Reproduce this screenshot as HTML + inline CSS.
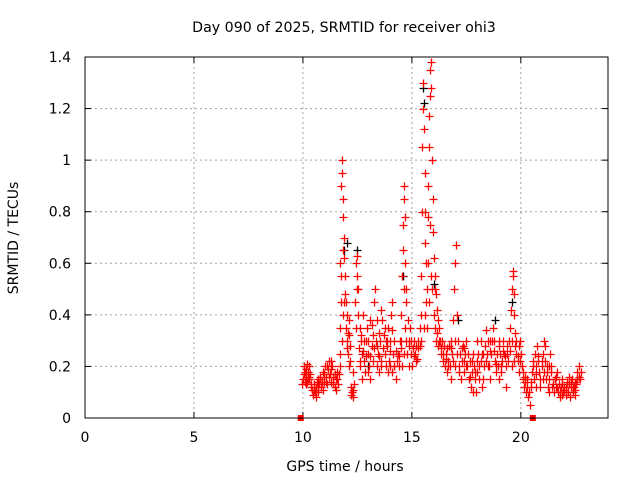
<!DOCTYPE html>
<html><head><meta charset="utf-8"><style>
html,body{margin:0;padding:0;background:#fff;}
svg{display:block;font-family:"DejaVu Sans","Liberation Sans",sans-serif;}
</style></head><body>
<svg id="chart" width="640" height="480">
<text x="344" y="32" text-anchor="middle" font-size="14.2">Day 090 of 2025, SRMTID for receiver ohi3</text>
<text transform="translate(18,238) rotate(-90)" text-anchor="middle" font-size="14">SRMTID / TECUs</text>
<text x="345" y="471" text-anchor="middle" font-size="14">GPS time / hours</text>
<g id="grid"></g>
<g id="axes"></g>
<g id="marks"></g>
<rect x="85" y="57" width="523" height="361" fill="none" stroke="#000" stroke-width="1"/>
</svg>
<script>
const xTicks=[0,5,10,15,20];
const yTicks=[0,0.2,0.4,0.6,0.8,1,1.2,1.4];
const yTickLabels=["0","0.2","0.4","0.6","0.8","1","1.2","1.4"];
const redT=[9.95,10.0,10.05,10.1,10.12,10.15,10.2,10.22,10.25,10.3,10.33,10.35,10.4,10.45,10.5,10.55,10.6,10.62,10.65,10.7,10.75,10.8,10.85,10.9,10.95,11.0,11.05,11.1,11.15,11.2,11.25,11.3,11.35,11.4,11.45,11.5,11.55,11.6,11.65,
10.05,10.15,10.3,10.5,10.7,10.9,11.1,11.3,11.5,
11.7,11.72,11.75,11.78,11.8,11.82,11.85,11.88,11.9,11.92,11.95,11.98,12.0,12.02,12.05,12.08,12.1,12.12,12.15,11.75,11.85,11.7,11.8,12.2,12.25,12.28,12.3,12.22,12.35,12.3,
12.4,12.45,12.5,12.48,12.52,12.55,12.6,12.65,12.7,12.75,12.8,12.85,12.9,12.95,13.0,13.05,13.1,13.15,13.2,13.25,13.3,13.35,13.4,13.45,13.5,13.55,13.6,13.65,13.7,13.75,13.8,13.85,13.9,13.95,14.0,14.05,14.1,14.15,14.2,14.25,14.3,
12.6,12.8,13.0,13.2,13.4,13.6,13.8,14.0,14.2,12.7,13.1,13.5,13.9,14.1,
14.35,14.4,14.45,14.5,14.55,14.58,14.6,14.62,14.65,14.68,14.7,14.72,14.75,14.8,14.85,14.9,14.95,15.0,14.55,14.65,14.75,14.85,15.05,15.1,15.15,15.2,15.25,15.3,15.35,
15.4,15.42,15.45,15.48,15.5,15.52,15.55,15.58,15.6,15.62,15.65,15.7,15.72,15.75,15.78,15.8,15.82,15.85,15.88,15.9,15.92,15.95,15.98,16.0,16.05,16.1,16.15,16.2,16.25,16.3,15.6,15.7,15.8,15.9,16.0,16.1,16.2,16.35,16.4,16.45,
16.5,16.55,16.6,16.65,16.7,16.75,16.8,16.85,16.9,16.95,17.0,17.02,17.05,17.1,17.15,17.2,17.25,17.3,17.35,17.4,17.45,17.5,17.55,17.6,17.65,17.7,17.75,17.8,17.85,17.9,17.95,18.0,18.05,18.1,18.15,18.2,18.25,18.3,18.35,18.4,18.45,18.5,18.55,18.6,18.65,18.7,18.75,18.8,18.85,18.9,18.95,19.0,19.05,19.1,19.15,19.2,19.25,19.3,19.35,19.4,19.45,
16.6,17.0,17.4,17.8,18.2,18.6,19.0,19.3,18.0,16.8,
19.5,19.55,19.6,19.62,19.65,19.68,19.7,19.72,19.75,19.8,19.85,19.9,19.95,20.0,20.05,20.1,19.6,19.7,19.9,
20.15,20.2,20.25,20.3,20.35,20.4,20.45,20.5,20.55,20.6,20.65,20.7,20.75,20.8,20.85,20.9,20.95,21.0,21.05,21.1,21.15,21.2,21.25,21.3,21.35,21.4,21.45,21.5,21.55,21.6,21.65,21.7,21.75,21.8,21.85,21.9,21.95,22.0,22.05,22.1,22.15,22.2,22.25,22.3,22.35,22.4,22.45,22.5,22.55,22.6,22.65,22.7,22.75,
20.7,21.0,21.3,21.6,21.9,22.2,22.5,21.1];
const redV=[0.13,0.15,0.17,0.14,0.19,0.16,0.21,0.18,0.15,0.2,0.17,0.12,0.11,0.09,0.13,0.1,0.08,0.12,0.14,0.1,0.13,0.16,0.12,0.18,0.14,0.2,0.16,0.13,0.19,0.22,0.17,0.14,0.2,0.16,0.12,0.15,0.18,0.13,0.17,
0.2,0.13,0.15,0.11,0.15,0.11,0.2,0.22,0.11,
0.35,0.6,0.9,1.0,0.95,0.85,0.78,0.7,0.62,0.55,0.48,0.45,0.4,0.3,0.33,0.25,0.38,0.2,0.28,0.45,0.4,0.25,0.3,0.12,0.1,0.08,0.11,0.09,0.13,0.18,
0.45,0.6,0.63,0.55,0.5,0.4,0.35,0.3,0.25,0.4,0.22,0.18,0.3,0.35,0.25,0.2,0.38,0.28,0.32,0.45,0.5,0.3,0.2,0.25,0.18,0.3,0.42,0.38,0.32,0.25,0.2,0.28,0.35,0.22,0.3,0.4,0.45,0.25,0.2,0.15,0.22,
0.22,0.3,0.18,0.22,0.28,0.2,0.3,0.2,0.3,0.15,0.15,0.24,0.18,0.18,
0.25,0.2,0.3,0.4,0.55,0.65,0.75,0.85,0.9,0.78,0.6,0.5,0.45,0.38,0.3,0.35,0.25,0.2,0.2,0.25,0.3,0.2,0.27,0.3,0.25,0.28,0.23,0.3,0.35,
0.4,0.55,0.8,1.05,1.2,1.3,1.12,0.95,0.8,0.68,0.6,0.5,0.78,0.9,1.05,1.17,1.25,1.35,1.38,1.28,1.0,0.85,0.72,0.62,0.55,0.48,0.42,0.38,0.35,0.3,0.4,0.35,0.45,0.55,0.4,0.3,0.28,0.25,0.3,0.22,
0.2,0.25,0.18,0.22,0.28,0.2,0.3,0.25,0.38,0.5,0.6,0.67,0.4,0.3,0.2,0.25,0.15,0.22,0.28,0.18,0.25,0.3,0.2,0.15,0.22,0.12,0.18,0.25,0.2,0.15,0.1,0.18,0.25,0.2,0.3,0.25,0.15,0.2,0.28,0.34,0.25,0.3,0.2,0.15,0.25,0.35,0.3,0.22,0.18,0.25,0.2,0.3,0.25,0.2,0.22,0.3,0.25,0.2,0.28,0.22,0.3,
0.27,0.2,0.27,0.1,0.12,0.3,0.15,0.12,0.3,0.15,
0.35,0.42,0.5,0.55,0.57,0.48,0.4,0.33,0.28,0.3,0.22,0.28,0.3,0.25,0.2,0.15,0.2,0.22,0.18,
0.12,0.14,0.1,0.15,0.08,0.05,0.12,0.18,0.22,0.15,0.25,0.2,0.28,0.22,0.18,0.12,0.2,0.25,0.3,0.22,0.15,0.18,0.12,0.2,0.25,0.18,0.12,0.1,0.15,0.12,0.18,0.1,0.13,0.08,0.12,0.15,0.1,0.12,0.09,0.14,0.1,0.13,0.08,0.12,0.15,0.1,0.12,0.09,0.13,0.18,0.2,0.15,0.18,
0.12,0.15,0.1,0.16,0.09,0.16,0.14,0.28];
const extraT=[10.08,10.18,10.28,10.38,10.58,10.68,10.78,10.88,10.98,11.08,11.18,11.28,11.38,11.48,11.58,11.68,
11.77,11.83,11.9,11.96,12.04,12.1,12.18,12.26,12.42,12.46,12.58,12.62,12.68,12.78,12.88,12.98,13.08,13.18,13.28,13.38,13.48,13.58,13.68,13.78,13.88,13.98,14.08,14.18,14.28,
14.42,14.48,14.52,14.62,14.7,14.78,14.88,14.98,15.08,15.18,15.28,15.38,15.44,15.54,15.64,15.74,15.84,15.94,16.04,16.08,16.14,16.24,16.32,16.42,16.48,
16.58,16.68,16.78,16.88,16.98,17.08,17.18,17.28,17.38,17.48,17.58,17.68,17.78,17.88,17.98,18.08,18.18,18.28,18.38,18.48,18.58,18.68,18.78,18.88,18.98,19.08,19.18,19.28,19.38,19.48,19.58,19.78,19.88,19.98,20.08,
20.18,20.28,20.38,20.48,20.58,20.68,20.78,20.88,20.98,21.08,21.18,21.28,21.38,21.48,21.58,21.68,21.78,21.88,21.98,22.08,22.18,22.28,22.38,22.48,22.58,22.68];
const extraV=[0.18,0.14,0.16,0.13,0.1,0.12,0.15,0.14,0.17,0.14,0.16,0.19,0.13,0.17,0.15,0.2,
0.55,0.65,0.45,0.35,0.27,0.32,0.22,0.1,0.35,0.5,0.27,0.2,0.32,0.26,0.24,0.3,0.24,0.36,0.27,0.38,0.33,0.22,0.27,0.35,0.3,0.26,0.34,0.2,0.26,
0.24,0.27,0.3,0.5,0.35,0.25,0.28,0.3,0.24,0.22,0.27,0.28,0.3,0.35,0.45,0.6,0.75,0.5,0.5,0.35,0.33,0.3,0.27,0.25,0.28,
0.23,0.2,0.27,0.22,0.3,0.25,0.18,0.27,0.22,0.2,0.25,0.16,0.22,0.18,0.22,0.15,0.22,0.25,0.22,0.2,0.26,0.3,0.26,0.21,0.28,0.18,0.26,0.24,0.25,0.26,0.3,0.25,0.24,0.22,0.18,
0.16,0.12,0.1,0.14,0.2,0.17,0.24,0.15,0.22,0.18,0.2,0.15,0.2,0.13,0.15,0.12,0.1,0.13,0.11,0.12,0.1,0.14,0.12,0.11,0.15,0.16];
const blackT=[11.9,12.5,15.5,15.55,14.6,19.6,13.0,17.1,18.8,12.0,16.0];
const blackV=[0.65,0.65,1.28,1.22,0.55,0.45,0.2,0.38,0.38,0.68,0.52];
const gapT=[9.9,20.55];
const gapV=[0,0];

const X0=85,X1=608,Y0=418,Y1=57,XMAX=24,YMAX=1.4;
const xs=t=>X0+(X1-X0)*t/XMAX;
const ys=v=>Y0-(Y0-Y1)*v/YMAX;
const NS="http://www.w3.org/2000/svg";
function mk(tag,attrs,parent){const e=document.createElementNS(NS,tag);for(const k in attrs)e.setAttribute(k,attrs[k]);parent.appendChild(e);return e;}
const grid=document.getElementById('grid'),axes=document.getElementById('axes'),marks=document.getElementById('marks');
xTicks.forEach(t=>{const x=xs(t);
 if(t>0){const g=mk('line',{x1:x,x2:x,y1:Y1,y2:Y0,stroke:'#a0a0a0','stroke-dasharray':'2,3'},grid);
 
 }
 const a=mk('line',{x1:x,x2:x,y1:Y0,y2:Y0-6,stroke:'#000'},axes);
 
 
 const b=mk('line',{x1:x,x2:x,y1:Y1,y2:Y1+6,stroke:'#000'},axes);
 
 
 const l=mk('text',{x:x,y:442,'text-anchor':'middle','font-size':'14'},axes);l.textContent=String(t);
 
 
});
yTicks.forEach((v,i)=>{const y=ys(v);
 if(v>0&&v<YMAX){const g=mk('line',{x1:X0,x2:X1,y1:y,y2:y,stroke:'#a0a0a0','stroke-dasharray':'2,3'},grid);
 
 }
 const a=mk('line',{x1:X0,x2:X0+6,y1:y,y2:y,stroke:'#000'},axes);
 
 
 const b=mk('line',{x1:X1,x2:X1-6,y1:y,y2:y,stroke:'#000'},axes);
 
 
 const l=mk('text',{x:71,y:y+5,'text-anchor':'end','font-size':'14'},axes);l.textContent=yTickLabels[i];
 
 
});
function plus(t,v,col,name){const x=Math.round(xs(t))+0.5,y=Math.round(ys(v))+0.5;
 const p=mk('path',{d:`M${x-4},${y}H${x+4}M${x},${y-4}V${y+4}`,stroke:col,'stroke-width':'1.3',fill:'none'},marks);
 
 
}
blackT.forEach((t,i)=>plus(t,blackV[i],'#000','black-point'));
redT.forEach((t,i)=>plus(t,redV[i],'#ff0000','red-point'));
extraT.forEach((t,i)=>plus(t,extraV[i],'#ff0000','red-point'));
gapT.forEach((t,i)=>{const s=mk('rect',{x:xs(t)-3,y:ys(gapV[i])-3,width:6,height:6,fill:'#ff0000'},marks);
 
 });
</script>
</body></html>
